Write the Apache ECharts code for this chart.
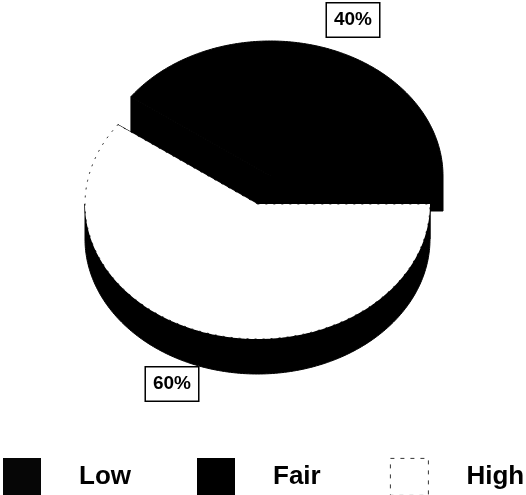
<!DOCTYPE html>
<html>
<head>
<meta charset="utf-8">
<style>html,body{margin:0;padding:0;background:#fff}#chart{width:526px;height:495px}</style>
<script src="https://cdn.jsdelivr.net/npm/echarts@6/dist/echarts.min.js"></script>
</head>
<body>
<div id="chart"></div>
<script>
// Share of responses per rating, in percent
const categories = ['Low', 'Fair', 'High'];
const shares = [0, 40, 60];

// Drawing geometry of the tilted pie
const RX = 172.5, RY = 135, DEPTH = 35;
const pieCentre = { Low: [257, 204], Fair: [270.5, 176], High: [257.5, 204] };
const labelCentre = { Fair: [353, 20], High: [172, 384] };
const legendLeft = { Low: 3, Fair: 197, High: 390 };
const swatchFill = { Low: '#060606', Fair: '#000000', High: '#ffffff' };
const FONT = '"Liberation Sans", Arial, sans-serif';

const total = shares.reduce((a, b) => a + b, 0);

// Angle range of a slice, running counter-clockwise from three o'clock
function sliceAngles(index) {
  const before = shares.slice(0, index).reduce((a, b) => a + b, 0);
  return [before / total * 360, (before + shares[index]) / total * 360];
}

function rimPoint(c, deg, drop) {
  const t = deg * Math.PI / 180;
  return [c[0] + RX * Math.cos(t), c[1] - RY * Math.sin(t) + (drop || 0)];
}

function rimArc(c, from, to, drop) {
  const pts = [];
  const steps = Math.max(2, Math.ceil(to - from));
  for (let i = 0; i <= steps; i++) pts.push(rimPoint(c, from + (to - from) * i / steps, drop));
  return pts;
}

function polygon(points, style) {
  return { type: 'polygon', shape: { points }, style };
}

function renderSlice(params, api) {
  const name = categories[params.seriesIndex];
  const value = api.value(0);
  if (!value) return { type: 'group', children: [] };

  const c = pieCentre[name];
  const [from, to] = sliceAngles(params.seriesIndex);
  const below = [c[0], c[1] + DEPTH];
  const ink = { fill: '#000', stroke: '#000', lineWidth: 1 };
  const children = [];

  // Cut faces along both radial edges
  [from, to].forEach(function (deg) {
    children.push(polygon([c, rimPoint(c, deg), rimPoint(c, deg, DEPTH), below], ink));
  });

  // Outer wall, only where the rim faces the viewer
  const wallFrom = Math.max(from, 180);
  if (to > wallFrom) {
    const top = rimArc(c, wallFrom, to, 0);
    const bottom = rimArc(c, wallFrom, to, DEPTH).reverse();
    children.push(polygon(top.concat(bottom), ink));
  }

  // Top face: the pale slice gets a thin dotted outline, dark ones a solid one
  const face = [c].concat(rimArc(c, from, to, 0));
  const pale = swatchFill[name] === '#ffffff';
  children.push(polygon(face, {
    fill: swatchFill[name],
    stroke: '#000',
    lineWidth: pale ? 0.8 : 1,
    lineDash: pale ? [2, 6] : null
  }));

  // Boxed percentage
  const at = labelCentre[name];
  children.push({
    type: 'text',
    z2: 10,
    style: {
      x: at[0],
      y: at[1],
      text: value + '%',
      align: 'center',
      verticalAlign: 'middle',
      font: 'bold 19px ' + FONT,
      fill: '#000',
      backgroundColor: '#fff',
      borderColor: '#000',
      borderWidth: 1.5,
      padding: [7, 7]
    }
  });

  return { type: 'group', children };
}

const chart = echarts.init(document.getElementById('chart'), null, { renderer: 'canvas' });

chart.setOption({
  animation: false,
  backgroundColor: '#fff',
  legend: categories.map(function (name) {
    return {
      left: legendLeft[name],
      top: 458,
      padding: 0,
      selectedMode: false,
      itemWidth: 38,
      itemHeight: 37,
      itemGap: 0,
      icon: 'rect',
      textStyle: {
        fontFamily: FONT,
        fontWeight: 'bold',
        fontSize: 26,
        color: '#000',
        padding: [0, 0, 0, 33]
      },
      data: [{
        name,
        itemStyle: name === 'High'
          ? { color: '#fff', borderColor: '#000', borderWidth: 0.8, borderType: [4, 6] }
          : { color: swatchFill[name], borderWidth: 0 }
      }]
    };
  }),
  series: categories.map(function (name, i) {
    return {
      type: 'custom',
      name,
      coordinateSystem: 'none',
      silent: true,
      renderItem: renderSlice,
      data: [[shares[i]]]
    };
  })
});
</script>
</body>
</html>
